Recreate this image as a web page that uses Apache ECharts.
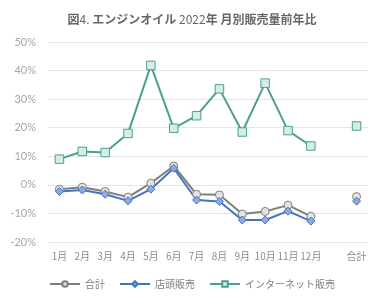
<!DOCTYPE html>
<html><head><meta charset="utf-8">
<script src="https://cdn.jsdelivr.net/npm/echarts@6/dist/echarts.min.js"></script>
<style>html,body{margin:0;padding:0;background:#fff}#c{width:384px;height:300px}</style>
</head><body><div id="c"></div>
<script>
const categories = ['1月','2月','3月','4月','5月','6月','7月','8月','9月','10月','11月','12月','','合計'];
const totalValues = [-1.5,-0.8,-2.3,-4.3,0.6,6.6,-3.3,-3.5,-10.2,-9.3,-7.1,-11.0,null,-4.1];
const storeValues = [-2.3,-1.8,-3.3,-5.6,-1.5,5.8,-5.3,-5.8,-12.3,-12.3,-9.2,-12.7,null,-5.7];
const netValues = [9.0,11.7,11.3,18.0,41.8,19.8,24.2,33.6,18.5,35.6,19.0,13.6,null,20.6];
const seriesNames = ['合計','店頭販売','インターネット販売'];

const font = '"Noto Sans CJK JP", Lato, sans-serif';
const chart = echarts.init(document.getElementById('c'), null, {renderer:'canvas'});
function mk(name, data, color, fill, symbol, size){
  return {name, type:'line', data, connectNulls:false, symbol, symbolSize:size,
    lineStyle:{color, width:2}, itemStyle:{color:fill, borderColor:color, borderWidth:1},
    emphasis:{disabled:true}, z: 2};
}
chart.setOption({
  animation:false,
  title:{left:'center', top:8,
    text:'{b|図}{n|4. }{b|エンジンオイル }{n|2022}{b|年 月別販売量前年比}',
    textStyle:{rich:{
      b:{fontFamily:font, fontSize:12, fontWeight:'bold', color:'#666666'},
      n:{fontFamily:font, fontSize:12, fontWeight:'normal', color:'#666666'}}}},
  grid:{left:48, right:16, top:42, bottom:58},
  xAxis:{type:'category', data:categories, boundaryGap:true,
    axisLine:{show:false}, axisTick:{show:false},
    axisLabel:{color:'#8c8c8c', fontFamily:font, fontSize:10, interval:0, margin:9}},
  yAxis:{type:'value', min:-20, max:50, interval:10,
    axisLabel:{formatter:'{value}%', color:'#a6a6a6', fontFamily:'Lato, sans-serif', fontSize:11, margin:12},
    splitLine:{lineStyle:{color:'#e6e6e6', width:1}}},
  legend:{bottom:6, left:'center', itemWidth:30, itemHeight:7, itemGap:14,
    textStyle:{color:'#7f7f7f', fontFamily:font, fontSize:10},
    data:seriesNames},
  series:[
    mk('合計', totalValues, '#7f7f7f', '#e2e2e2', 'circle', 8),
    mk('店頭販売', storeValues, '#4472c4', '#8eaadb', 'diamond', 8),
    mk('インターネット販売', netValues, '#4aa090', '#d5ede7', 'rect', 8.5)
  ]
});
</script></body></html>
